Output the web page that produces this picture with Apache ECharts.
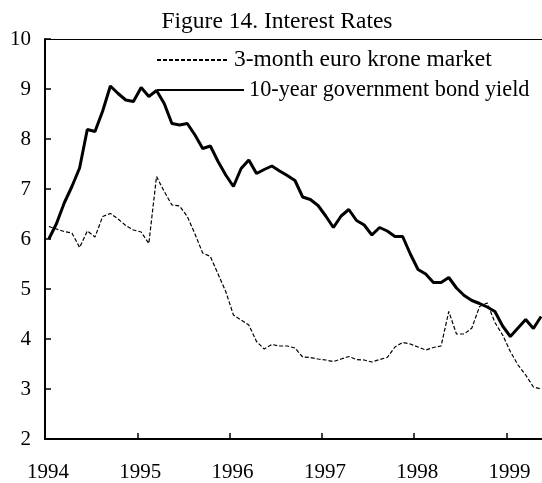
<!DOCTYPE html>
<html><head><meta charset="utf-8">
<script src="https://cdn.jsdelivr.net/npm/echarts@6/dist/echarts.min.js"></script>
<style>html,body{margin:0;padding:0;background:#fff}#c{width:542px;height:483px}</style>
</head><body><div id="c"></div>
<script>
const titleText = 'Figure 14. Interest Rates';
const startYear = 1994;
const yearTicks = [1994, 1995, 1996, 1997, 1998, 1999];
const seriesNames = ['3-month euro krone market', '10-year government bond yield'];
// monthly values, Jan 1994 .. May 1999
const euroKrone3m = [
  6.25, 6.20, 6.15, 6.12, 5.83, 6.16, 6.04, 6.45, 6.51, 6.40, 6.27, 6.18,
  6.14, 5.91, 7.25, 6.95, 6.68, 6.66, 6.45, 6.10, 5.72, 5.65, 5.30, 4.95,
  4.48, 4.38, 4.28, 3.95, 3.80, 3.89, 3.86, 3.86, 3.82, 3.64, 3.63, 3.60,
  3.58, 3.55, 3.60, 3.65, 3.59, 3.58, 3.54, 3.59, 3.63, 3.84, 3.93, 3.90,
  3.84, 3.78, 3.83, 3.86, 4.55, 4.10, 4.10, 4.22, 4.65, 4.72, 4.33, 4.08,
  3.75, 3.48, 3.28, 3.04, 3.00
];
const bond10y = [
  6.00, 6.31, 6.72, 7.05, 7.42, 8.19, 8.15, 8.56, 9.06, 8.91, 8.78, 8.75,
  9.03, 8.85, 8.97, 8.71, 8.31, 8.28, 8.31, 8.08, 7.81, 7.86, 7.55, 7.28,
  7.05, 7.41, 7.58, 7.31, 7.39, 7.46, 7.36, 7.27, 7.17, 6.84, 6.79, 6.67,
  6.46, 6.23, 6.46, 6.59, 6.37, 6.28, 6.08, 6.23, 6.16, 6.05, 6.05, 5.70,
  5.39, 5.30, 5.13, 5.13, 5.23, 5.02, 4.87, 4.77, 4.71, 4.64, 4.55, 4.26,
  4.05, 4.22, 4.39, 4.21, 4.45
];

const monthPos = i => startYear + (i + 0.5) / 12;
const toPairs = arr => arr.map((v, i) => [monthPos(i), v]);
const FONT = 'Liberation Serif, Times New Roman, serif';
const xMin = yearTicks[0], xMax = 1999.385;

const chart = echarts.init(document.getElementById('c'), null, {renderer: 'canvas'});
chart.setOption({
  animation: false,
  backgroundColor: '#fff',
  title: {
    text: titleText, left: 272, top: 5, textAlign: 'center',
    textStyle: {fontFamily: FONT, fontSize: 23.5, fontWeight: 'normal', color: '#000'}
  },
  legend: [
    {
      data: [seriesNames[0]], left: 156, top: 48, padding: 0,
      itemWidth: 72, itemHeight: 20,
      itemStyle: {opacity: 0},
      textStyle: {fontFamily: FONT, fontSize: 23.5, color: '#000'}
    },
    {
      data: [seriesNames[1]], left: 156, top: 79, padding: 0,
      itemWidth: 87, itemHeight: 20,
      itemStyle: {opacity: 0},
      textStyle: {fontFamily: FONT, fontSize: 22.3, color: '#000'}
    }
  ],
  grid: {left: 45, right: 0, top: 39, bottom: 44, containLabel: false},
  xAxis: [
    {
      type: 'value', min: xMin, max: xMax, interval: 1,
      axisLine: {lineStyle: {color: '#000', width: 2}},
      axisTick: {inside: true, length: 6, lineStyle: {color: '#000', width: 1.5}},
      splitLine: {show: false},
      axisLabel: {
        margin: 23, padding: [0, 0, 0, 6], fontFamily: FONT, fontSize: 21, color: '#000',
        showMaxLabel: false,
        formatter: v => (yearTicks.includes(Math.round(v)) && Math.abs(v - Math.round(v)) < 1e-6) ? String(Math.round(v)) : ''
      }
    },
    {
      type: 'value', position: 'top', min: xMin, max: xMax,
      axisLine: {show: true, lineStyle: {color: '#000', width: 1}},
      axisTick: {show: false}, axisLabel: {show: false}, splitLine: {show: false}
    }
  ],
  yAxis: {
    type: 'value', min: 2, max: 10, interval: 1,
    axisLine: {show: true, lineStyle: {color: '#000', width: 2}},
    axisTick: {show: true, inside: true, length: 6, lineStyle: {color: '#000', width: 1.5}},
    splitLine: {show: false},
    axisLabel: {margin: 14, fontFamily: FONT, fontSize: 21, color: '#000'}
  },
  series: [
    {
      name: seriesNames[0], type: 'line', data: toPairs(euroKrone3m),
      xAxisIndex: 0, symbol: 'none', showSymbol: false, clip: false,
      lineStyle: {color: '#000', width: 1.2, type: [4, 2]},
      itemStyle: {color: '#000'}
    },
    {
      name: seriesNames[1], type: 'line', data: toPairs(bond10y),
      xAxisIndex: 0, symbol: 'none', showSymbol: false, clip: false,
      lineStyle: {color: '#000', width: 3},
      itemStyle: {color: '#000'}
    }
  ]
});
</script></body></html>
